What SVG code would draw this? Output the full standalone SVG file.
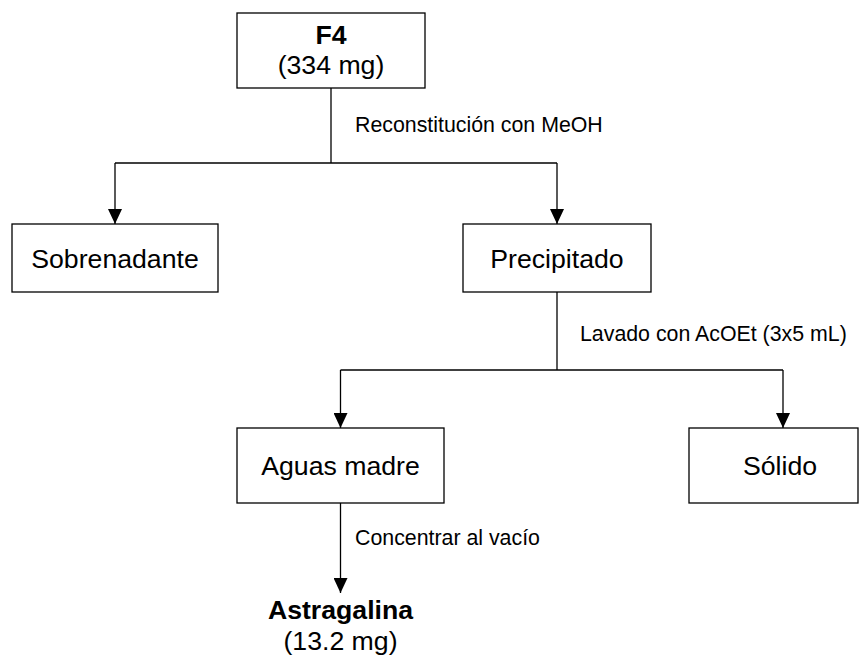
<svg xmlns="http://www.w3.org/2000/svg" width="866" height="656" viewBox="0 0 866 656">
<defs>
<marker id="arr" markerWidth="15" markerHeight="14" refX="15" refY="7" orient="auto" markerUnits="userSpaceOnUse" viewBox="0 0 15 14">
<path d="M0,0 L15,7 L0,14 Z" fill="#000"/>
</marker>
<style>
.box{fill:#fff;stroke:#000;stroke-width:1.3}
.node{font-family:"Liberation Sans",Arial,sans-serif;font-size:26.67px;fill:#000;text-anchor:middle}
.b{font-weight:bold}
.lbl{font-family:"Liberation Sans",Arial,sans-serif;font-size:21.33px;fill:#000}
.ln{fill:none;stroke:#000;stroke-width:1.3}
</style>
</defs>
<rect width="866" height="656" fill="#fff"/>
<g id="connectors">
<path class="ln" d="M331,88 V163"/>
<path class="ln" d="M115,163 H557"/>
<line class="ln" x1="115" y1="163" x2="115" y2="224" marker-end="url(#arr)"/>
<line class="ln" x1="557" y1="163" x2="557" y2="224" marker-end="url(#arr)"/>
<path class="ln" d="M557,292 V370"/>
<path class="ln" d="M340.5,370 H783"/>
<line class="ln" x1="340.5" y1="370" x2="340.5" y2="428" marker-end="url(#arr)"/>
<line class="ln" x1="783" y1="370" x2="783" y2="428" marker-end="url(#arr)"/>
<line class="ln" x1="340.5" y1="503" x2="340.5" y2="593" marker-end="url(#arr)"/>
<text class="lbl" x="355" y="132">Reconstitución con MeOH</text>
<text class="lbl" x="580" y="341">Lavado con AcOEt (3x5 mL)</text>
<text class="lbl" x="355" y="545">Concentrar al vacío</text>
</g>
<g id="f4">
<rect class="box" x="237" y="13" width="188" height="75"/>
<text class="node b" x="331" y="44">F4</text>
<text class="node" x="331" y="74">(334 mg)</text>
</g>
<g id="sobrenadante">
<rect class="box" x="12" y="224" width="206" height="68"/>
<text class="node" x="115" y="268">Sobrenadante</text>
</g>
<g id="precipitado">
<rect class="box" x="463" y="224" width="188" height="68"/>
<text class="node" x="557" y="268">Precipitado</text>
</g>
<g id="aguas">
<rect class="box" x="237" y="428" width="207" height="75"/>
<text class="node" x="340.5" y="475">Aguas madre</text>
</g>
<g id="solido">
<rect class="box" x="689" y="428" width="169" height="75"/>
<text class="node" x="780" y="475">Sólido</text>
</g>
<g id="astragalina">
<text class="node b" x="340.5" y="619">Astragalina</text>
<text class="node" x="340.5" y="650">(13.2 mg)</text>
</g>
</svg>
